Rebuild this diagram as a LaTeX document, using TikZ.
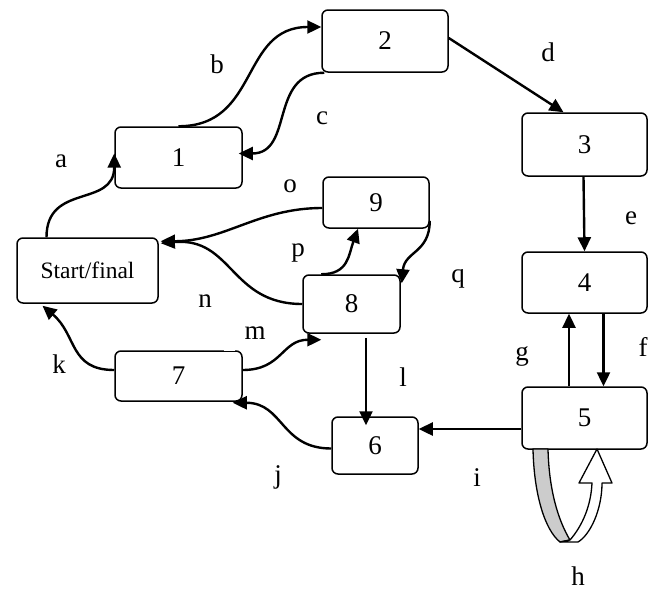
\documentclass[tikz,border=0pt]{standalone}
\usepackage{fontspec}
\setmainfont{Liberation Serif}
\usetikzlibrary{arrows.meta,calc}
\begin{document}
\begin{tikzpicture}[x=1pt,y=1pt,
  box/.style={draw, line width=1.5pt, rounded corners=6pt, inner sep=0pt, font=\fontsize{27}{30}\selectfont},
  arr/.style={line width=2.4pt, -{Triangle[length=14pt,width=13pt]}},
  lbl/.style={font=\fontsize{27}{30}\selectfont, inner sep=0pt}]
\useasboundingbox (0,0) rectangle (659,-590);

% nodes
\node[box, minimum width=127pt, minimum height=61pt] (n1) at (178.5,-157.5) {1};
\node[box, minimum width=126pt, minimum height=62pt] (n2) at (385,-41) {2};
\node[box, minimum width=125pt, minimum height=63pt] (n3) at (584.5,-144.5) {3};
\node[box, minimum width=125pt, minimum height=61pt] (n4) at (584.5,-282.5) {4};
\node[box, minimum width=125pt, minimum height=62pt] (n5) at (584.5,-418) {5};
\node[box, minimum width=86pt, minimum height=57pt] (n6) at (375,-445.5) {6};
\node[box, minimum width=127pt, minimum height=50pt] (n7) at (178.5,-376) {7};
\node[box, minimum width=97pt, minimum height=58pt] (n8) at (351.5,-304) {8};
\node[box, minimum width=106pt, minimum height=51pt] (n9) at (376,-202.5) {9};
\node[box, minimum width=141pt, minimum height=65pt, font=\fontsize{23.5}{26}\selectfont] (s) at (87.5,-270.5) {Start/final};

% small white break on top edge of box 7
\draw[white, line width=2pt] ($(n7.north east)+(-19,0)$) -- ($(n7.north east)+(-8,0)$);

% connectors
\draw[arr] ($(s.north)+(-41,0)$) to[out=90,in=-90,looseness=1.3] ($(n1.west)+(0,4)$);
\draw[arr] (n1.north) to[out=0,in=180,looseness=1.2] ($(n2.west)+(0,14)$);
\draw[arr] ($(n2.south west)+(3,0)$) to[out=180,in=0,looseness=1.2] ($(n1.east)+(-4,4)$);
\draw[arr] ($(n2.east)+(0,3)$) -- ($(n3.north)+(-21,0)$);
\draw[arr] ($(n3.south)+(-1,0)$) -- (n4.north);
\draw[arr] ($(n4.south)+(19,0)$) -- ($(n5.north)+(19,0)$);
\draw[arr] ($(n5.north)+(-15.5,0)$) -- ($(n4.south)+(-15.5,0)$);
\draw[arr] ($(n5.west)+(0,-11)$) -- ($(n6.east)+(0,16.5)$);
\draw[arr] ($(n8.south)+(14.5,-4)$) -- ($(n6.north)+(-9,-9)$);
\draw[arr] ($(n6.west)+(0,-3)$) to[out=180,in=0,looseness=1.2] ($(n7.south east)+(-10,-1)$);
\draw[arr] ($(n7.west)+(0,6)$) to[out=180,in=-40,looseness=1.2] ($(s.south)+(-45,-2)$);
\draw[arr] ($(n7.east)+(0,6)$) to[out=0,in=180,looseness=1.2] ($(n8.south west)+(19,-6)$);
\draw[arr] (n8.west) to[out=180,in=5,looseness=1.2] ($(s.north east)+(2,-6)$);
\draw[arr] ($(n9.west)+(0,-5.5)$) to[out=180,in=0,looseness=1.0] ($(s.north east)+(2,-4)$);
\draw[arr] ($(n8.north west)+(19,0)$) to[out=0,in=-110,looseness=1.2] ($(n9.south)+(-18,0)$);
\draw[arr] ($(n9.south east)+(0,8)$) to[out=-90,in=85,looseness=1.2] ($(n8.north east)+(1,-9)$);

% self loop h (block arrow)
\draw[line width=1.3pt, fill=gray!40, line join=round]
  (533,-449) .. controls (534,-495) and (545,-530) .. (560,-542)
  -- (570,-540) .. controls (558,-520) and (549,-490) .. (548,-449) -- cycle;
\draw[line width=1.3pt, fill=white, line join=round]
  (560,-542) -- (578,-542) .. controls (590,-535) and (602,-510) .. (602,-483)
  -- (612,-483) -- (597,-449) -- (579,-483) -- (592,-483)
  .. controls (591,-505) and (583,-525) .. (570,-540) -- cycle;

% labels
\node[lbl] (la) at (61,-161) {a};
\node[lbl] (lb) at (217,-64.5) {b};
\node[lbl] (lc) at (322,-118) {c};
\node[lbl] (ld) at (548,-52) {d};
\node[lbl] (le) at (631,-218) {e};
\node[lbl] (lf) at (643,-347) {f};
\node[lbl] (lg) at (522,-356) {g};
\node[lbl] (lh) at (578,-576) {h};
\node[lbl] (li) at (477,-478) {i};
\node[lbl] (lj) at (278,-477) {j};
\node[lbl] (lk) at (59,-364) {k};
\node[lbl] (ll) at (403,-377) {l};
\node[lbl] (lm) at (255,-333) {m};
\node[lbl] (ln) at (205,-301) {n};
\node[lbl] (lo) at (290,-186) {o};
\node[lbl] (lp) at (298,-253) {p};
\node[lbl] (lq) at (458,-279) {q};
\end{tikzpicture}
\end{document}
